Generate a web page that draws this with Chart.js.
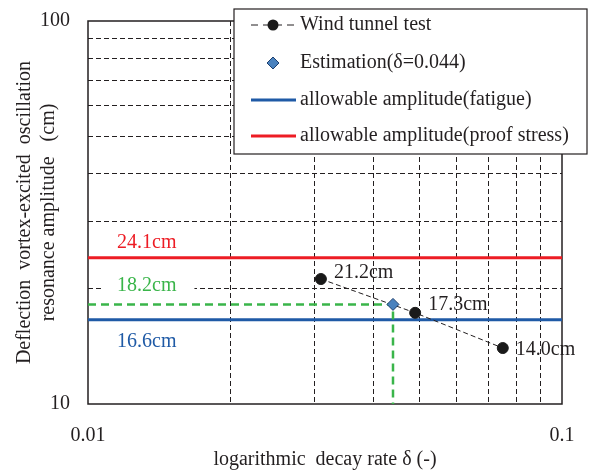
<!DOCTYPE html>
<html>
<head>
<meta charset="utf-8">
<script src="https://cdn.jsdelivr.net/npm/chart.js@4"></script>
<style>
  html, body { margin: 0; padding: 0; background: #fff; }
  #wrap { width: 590px; height: 472px; }
</style>
</head>
<body>
<div id="wrap"><canvas id="chart" width="590" height="472"></canvas></div>
<script>
// values
const windDelta = [0.031, 0.049, 0.075];
const windAmp   = [21.2, 17.3, 14.0];
const estDelta  = 0.044;
const estAmp    = 18.2;
const fatigueAmp = 16.6;
const proofAmp   = 24.1;
const xTickLabels = ['0.01', '0.1'];
const yTickLabels = ['10', '100'];
const seriesNames = ['Wind tunnel test', 'Estimation(δ=0.044)',
                     'allowable amplitude(fatigue)', 'allowable amplitude(proof stress)'];

const xMin = parseFloat(xTickLabels[0]), xMax = parseFloat(xTickLabels[1]);
const yMin = parseFloat(yTickLabels[0]), yMax = parseFloat(yTickLabels[1]);

const INK = '#231f20';
const RED = '#ed1c24';
const BLUE = '#1f5aa6';
const GREEN = '#3ab54a';
const DIAMOND = '#4a82be';
const FONT = "'Liberation Serif', 'Times New Roman', serif";

const isDecade = (v) => Math.abs(Math.log10(v) - Math.round(Math.log10(v))) < 1e-6;
const tickText = (labels) => (v) => {
    const hit = labels.find(l => Math.abs(Math.log10(parseFloat(l)) - Math.log10(v)) < 1e-6);
    return hit || '';
};
// 1..9 x decade grid, like the original log paper
const decadeTicks = (lo) => (scale) => {
    scale.ticks = [1, 2, 3, 4, 5, 6, 7, 8, 9, 10].map(k => ({ value: +(k * lo).toPrecision(6) }));
};

// label nudges for the point labels (px)
const labelDy = [-6, -8, 2];

const extras = {
    id: 'extras',
    beforeDatasetsDraw(chart) {
        const { ctx, chartArea: a } = chart;
        ctx.save();
        ctx.strokeStyle = INK;
        ctx.lineWidth = 1.5;
        ctx.strokeRect(a.left, a.top, a.right - a.left, a.bottom - a.top);
        ctx.restore();
    },
    afterDatasetsDraw(chart) {
        const { ctx, scales: { x, y } } = chart;
        ctx.save();
        ctx.font = '20px ' + FONT;
        ctx.textBaseline = 'middle';
        ctx.textAlign = 'left';

        // point labels
        ctx.fillStyle = INK;
        windDelta.forEach((d, i) => {
            ctx.fillText(windAmp[i].toFixed(1) + 'cm', x.getPixelForValue(d) + 13, y.getPixelForValue(windAmp[i]) + labelDy[i]);
        });

        // reference line labels
        const lx = 117;
        ctx.fillStyle = RED;
        ctx.fillText(proofAmp.toFixed(1) + 'cm', lx, y.getPixelForValue(proofAmp) - 15);

        const gy = y.getPixelForValue(estAmp) - 19;
        const gt = estAmp.toFixed(1) + 'cm';
        const gw = ctx.measureText(gt).width;
        ctx.fillStyle = '#fff';
        ctx.fillRect(lx - 15, gy - 9, gw + 33, 18);
        ctx.fillStyle = GREEN;
        ctx.fillText(gt, lx, gy);

        ctx.fillStyle = BLUE;
        ctx.fillText(fatigueAmp.toFixed(1) + 'cm', lx, y.getPixelForValue(fatigueAmp) + 22);
        ctx.restore();
    },
    afterDraw(chart) {
        const { ctx } = chart;
        const bx = 234, by = 9, bw = 353, bh = 145;
        ctx.save();
        ctx.fillStyle = '#fff';
        ctx.fillRect(bx, by, bw, bh);
        ctx.strokeStyle = INK;
        ctx.lineWidth = 1.2;
        ctx.strokeRect(bx, by, bw, bh);

        const rows = [25, 63, 100, 136];
        const sx0 = 251, sx1 = 296, tx = 300;

        // wind tunnel sample
        ctx.strokeStyle = INK;
        ctx.lineWidth = 1;
        ctx.setLineDash([7, 5]);
        ctx.beginPath();
        ctx.moveTo(sx0, rows[0]);
        ctx.lineTo(sx1, rows[0]);
        ctx.stroke();
        ctx.setLineDash([]);
        ctx.fillStyle = '#1a1a1a';
        ctx.beginPath();
        ctx.arc(273, rows[0], 5.5, 0, Math.PI * 2);
        ctx.fill();

        // estimation sample
        ctx.fillStyle = DIAMOND;
        ctx.strokeStyle = '#1d3f6e';
        ctx.beginPath();
        ctx.moveTo(273, rows[1] - 6);
        ctx.lineTo(279, rows[1]);
        ctx.lineTo(273, rows[1] + 6);
        ctx.lineTo(267, rows[1]);
        ctx.closePath();
        ctx.fill();
        ctx.stroke();

        // line samples
        [[BLUE, rows[2]], [RED, rows[3]]].forEach(([c, ry]) => {
            ctx.strokeStyle = c;
            ctx.lineWidth = 3;
            ctx.beginPath();
            ctx.moveTo(sx0, ry);
            ctx.lineTo(sx1, ry);
            ctx.stroke();
        });

        ctx.font = '20px ' + FONT;
        ctx.fillStyle = INK;
        ctx.textBaseline = 'middle';
        ctx.textAlign = 'left';
        seriesNames.forEach((s, i) => ctx.fillText(s, tx, rows[i]));
        ctx.restore();
    }
};

const gridColor = (c) => (c.tick && isDecade(c.tick.value)) ? 'rgba(0,0,0,0)' : INK;

const ctx = document.getElementById('chart').getContext('2d');
new Chart(ctx, {
    type: 'scatter',
    data: {
        datasets: [
            {
                label: seriesNames[1],
                data: [{ x: estDelta, y: estAmp }],
                pointStyle: 'rectRot',
                pointRadius: 6,
                pointBackgroundColor: DIAMOND,
                pointBorderColor: '#1d3f6e',
                pointBorderWidth: 1
            },
            {
                label: seriesNames[0],
                data: windDelta.map((d, i) => ({ x: d, y: windAmp[i] })),
                showLine: true,
                borderColor: INK,
                borderWidth: 1,
                borderDash: [5, 3],
                pointRadius: 5.5,
                pointBackgroundColor: '#1a1a1a',
                pointBorderColor: '#1a1a1a'
            },
            {
                label: 'guide',
                data: [{ x: xMin, y: estAmp }, { x: estDelta, y: estAmp }, { x: estDelta, y: yMin }],
                showLine: true,
                borderColor: GREEN,
                borderWidth: 2.5,
                borderDash: [8, 5],
                pointRadius: 0
            },
            {
                label: seriesNames[2],
                data: [{ x: xMin, y: fatigueAmp }, { x: xMax, y: fatigueAmp }],
                showLine: true,
                borderColor: BLUE,
                borderWidth: 3,
                pointRadius: 0
            },
            {
                label: seriesNames[3],
                data: [{ x: xMin, y: proofAmp }, { x: xMax, y: proofAmp }],
                showLine: true,
                borderColor: RED,
                borderWidth: 3,
                pointRadius: 0
            }
        ]
    },
    options: {
        responsive: false,
        devicePixelRatio: 1,
        animation: false,
        layout: { padding: { top: 21, right: 28, left: 0, bottom: 0 } },
        plugins: { legend: { display: false }, tooltip: { enabled: false } },
        scales: {
            x: {
                type: 'logarithmic',
                min: xMin, max: xMax,
                afterBuildTicks: decadeTicks(xMin),
                afterFit: (s) => { s.height = 68; },
                grid: {
                    drawTicks: true, tickLength: 20, tickColor: 'rgba(0,0,0,0)',
                    color: gridColor,
                    lineWidth: 1
                },
                border: { display: false, dash: [5, 3] },
                ticks: {
                    autoSkip: false, maxRotation: 0, padding: 0,
                    color: INK, font: { family: FONT, size: 20 },
                    callback: tickText(xTickLabels)
                },
                title: {
                    display: true, text: 'logarithmic  decay rate δ (-)',
                    color: INK, font: { family: FONT, size: 20 },
                    padding: { top: 0, bottom: 0 }
                }
            },
            y: {
                type: 'logarithmic',
                min: yMin, max: yMax,
                afterBuildTicks: decadeTicks(yMin),
                afterFit: (s) => { s.width = 88; },
                grid: {
                    drawTicks: true, tickLength: 18, tickColor: 'rgba(0,0,0,0)',
                    color: gridColor,
                    lineWidth: 1
                },
                border: { display: false, dash: [5, 3] },
                ticks: {
                    autoSkip: false, padding: 0,
                    color: INK, font: { family: FONT, size: 20 },
                    callback: tickText(yTickLabels)
                },
                title: {
                    display: true,
                    text: ['Deflection  vortex-excited  oscillation', 'resonance amplitude   (cm)'],
                    color: INK, font: { family: FONT, size: 20 },
                    padding: { top: 13, bottom: 0 }
                }
            }
        }
    },
    plugins: [extras]
});
</script>
</body>
</html>
